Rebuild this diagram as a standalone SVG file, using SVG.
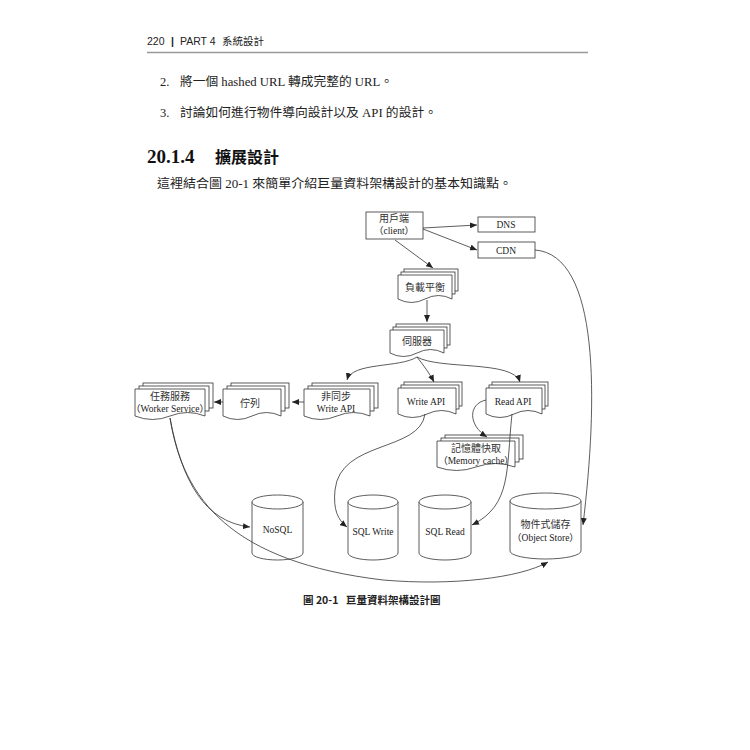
<svg xmlns="http://www.w3.org/2000/svg" width="750" height="750" viewBox="0 0 750 750">
<defs>
<marker id="ah" markerWidth="8" markerHeight="6" refX="7" refY="3" orient="auto" markerUnits="userSpaceOnUse">
<path d="M0,0 L7,3 L0,6 z" fill="#222"/>
</marker>
<style>
.sh{fill:#fff;stroke:#333;stroke-width:0.8}
.cn{fill:none;stroke:#333;stroke-width:0.8;marker-end:url(#ah)}
.t{font-family:"Liberation Serif","Noto Sans CJK TC",serif;font-size:9.5px;fill:#222;text-anchor:middle}
.c{font-family:"Noto Sans CJK TC","Liberation Sans",sans-serif;font-size:10px;fill:#333;text-anchor:middle}
.body{font-family:"Liberation Serif","Noto Sans CJK TC",serif;font-size:12.5px;fill:#222}
</style>
</defs>
<rect width="750" height="750" fill="#fff"/>
<!-- page header and text -->
<text y="45" font-family="'Liberation Sans','Noto Sans CJK TC',sans-serif" font-size="10.5" fill="#222"><tspan x="147">220</tspan><tspan x="171" font-weight="bold">|</tspan><tspan x="180">PART 4</tspan><tspan x="222">系統設計</tspan></text>
<line x1="147" y1="52.5" x2="588" y2="52.5" stroke="#999" stroke-width="1.5"/>
<text x="160" y="86" class="body">2.</text>
<text x="180" y="86" class="body" textLength="213" lengthAdjust="spacingAndGlyphs">將一個 hashed URL 轉成完整的 URL。</text>
<text x="160" y="117" class="body">3.</text>
<text x="180" y="117" class="body" textLength="257" lengthAdjust="spacingAndGlyphs">討論如何進行物件導向設計以及 API 的設計。</text>
<text x="147" y="163" font-family="'Liberation Serif','Noto Sans CJK TC',serif" font-size="19" font-weight="bold" fill="#111">20.1.4<tspan x="215" font-family="'Noto Sans CJK TC',sans-serif" font-size="16">擴展設計</tspan></text>
<text x="157" y="188" class="body" font-size="13.5" textLength="355" lengthAdjust="spacingAndGlyphs">這裡結合圖 20-1 來簡單介紹巨量資料架構設計的基本知識點。</text>

<!-- nodes -->
<g id="client">
<rect class="sh" x="366" y="212" width="57" height="27"/>
<text class="c" x="394" y="222">用戶端</text>
<text class="t" x="394" y="234">（client）</text>
</g>
<g id="dns">
<rect class="sh" x="478" y="217" width="57" height="15"/>
<text class="t" x="506" y="228">DNS</text>
</g>
<g id="cdn">
<rect class="sh" x="478" y="242" width="57" height="16"/>
<text class="t" x="506" y="254">CDN</text>
</g>

<g id="lb">
<rect class="sh" x="404" y="269" width="54" height="22"/>
<rect class="sh" x="401" y="272" width="54" height="22"/>
<path class="sh" d="M398,275 h54 v24 q-13.5,-7 -27,0 t-27,0 z"/>
<text class="c" x="425" y="291">負載平衡</text>
</g>
<g id="server">
<rect class="sh" x="396" y="324" width="54" height="21"/>
<rect class="sh" x="393" y="327" width="54" height="21"/>
<path class="sh" d="M390,330 h54 v23 q-13.5,-7 -27,0 t-27,0 z"/>
<text class="c" x="417" y="345">伺服器</text>
</g>

<g id="worker">
<rect class="sh" x="143" y="383" width="70" height="25"/>
<rect class="sh" x="139" y="386" width="70" height="25"/>
<path class="sh" d="M135,389 h70 v27 q-17.5,-7 -35,0 t-35,0 z"/>
<text class="c" x="170" y="400">任務服務</text>
<text class="t" x="170" y="412">（Worker Service）</text>
</g>
<g id="queue">
<rect class="sh" x="231" y="383" width="58" height="25"/>
<rect class="sh" x="227" y="386" width="58" height="25"/>
<path class="sh" d="M223,389 h58 v27 q-14.5,-7 -29,0 t-29,0 z"/>
<text class="c" x="250" y="407">佇列</text>
</g>
<g id="asyncwrite">
<rect class="sh" x="312" y="383" width="66" height="25"/>
<rect class="sh" x="308" y="386" width="66" height="25"/>
<path class="sh" d="M304,389 h66 v27 q-16.5,-7 -33,0 t-33,0 z"/>
<text class="c" x="336" y="400">非同步</text>
<text class="t" x="336" y="412">Write API</text>
</g>
<g id="writeapi">
<rect class="sh" x="404" y="382" width="58" height="24"/>
<rect class="sh" x="401" y="385" width="58" height="24"/>
<path class="sh" d="M398,388 h58 v26 q-14.5,-7 -29,0 t-29,0 z"/>
<text class="t" x="426" y="405">Write API</text>
</g>
<g id="readapi">
<rect class="sh" x="492" y="382" width="56" height="24"/>
<rect class="sh" x="489" y="385" width="56" height="24"/>
<path class="sh" d="M486,388 h56 v26 q-14,-7 -28,0 t-28,0 z"/>
<text class="t" x="513" y="405">Read API</text>
</g>
<g id="memcache">
<rect class="sh" x="445" y="435" width="78" height="24"/>
<rect class="sh" x="441" y="438" width="78" height="24"/>
<path class="sh" d="M437,441 h78 v26 q-19.5,-7 -39,0 t-39,0 z"/>
<text class="c" x="476" y="452">記憶體快取</text>
<text class="t" x="476" y="464">（Memory cache）</text>
</g>

<g id="nosql">
<path class="sh" d="M252,502 A25.5,7 0 0 1 303,502 V553 A25.5,7 0 0 1 252,553 Z"/>
<path class="sh" fill="none" d="M252,502 A25.5,7 0 0 0 303,502"/>
<text class="t" x="277.5" y="533">NoSQL</text>
</g>
<g id="sqlwrite">
<path class="sh" d="M348,502 A25,7 0 0 1 398,502 V553 A25,7 0 0 1 348,553 Z"/>
<path class="sh" fill="none" d="M348,502 A25,7 0 0 0 398,502"/>
<text class="t" x="373" y="535">SQL Write</text>
</g>
<g id="sqlread">
<path class="sh" d="M419,502 A26,7 0 0 1 471,502 V553 A26,7 0 0 1 419,553 Z"/>
<path class="sh" fill="none" d="M419,502 A26,7 0 0 0 471,502"/>
<text class="t" x="445" y="535">SQL Read</text>
</g>
<g id="objectstore">
<path class="sh" d="M510,501 A35.5,8 0 0 1 581,501 V551 A35.5,8 0 0 1 510,551 Z"/>
<path class="sh" fill="none" d="M510,501 A35.5,8 0 0 0 581,501"/>
<text class="c" x="545.5" y="528">物件式儲存</text>
<text class="t" x="545.5" y="541">（Object Store）</text>
</g>

<!-- connectors -->
<g id="connectors">
<path class="cn" d="M423,228 L477,225"/>
<path class="cn" d="M423,229 L477,250"/>
<path class="cn" d="M395,240 L433,268"/>
<path class="cn" d="M427,300 L427,322"/>
<path class="cn" d="M417,357 C400,368 352,362 347,380"/>
<path class="cn" d="M417,357 C424,366 430,374 434,382"/>
<path class="cn" d="M417,357 C440,370 513,360 520,382"/>
<path class="cn" d="M223,402 L214,402"/>
<path class="cn" d="M304,402 L292,402"/>
<path class="cn" d="M486,400 C468,404 468,425 487,437"/>
<path class="cn" d="M512,414 C506,470 512,505 472,525"/>
<path class="cn" d="M425,414 C420,452 340,440 335,490 C333,510 338,520 347,527"/>
<path class="cn" d="M170,418 C182,482 205,522 250,527"/>
<path class="cn" d="M170,418 C183,500 232,562 383,580 C452,586 520,578 548,562"/>
<path class="cn" d="M535,250 C600,255 598,400 583,525"/>
</g>

<text x="303" y="604" font-family="'Noto Sans CJK TC','Liberation Sans',sans-serif" font-size="10.5" font-weight="bold" fill="#222">圖 20-1<tspan x="346">巨量資料架構設計圖</tspan></text>
</svg>
